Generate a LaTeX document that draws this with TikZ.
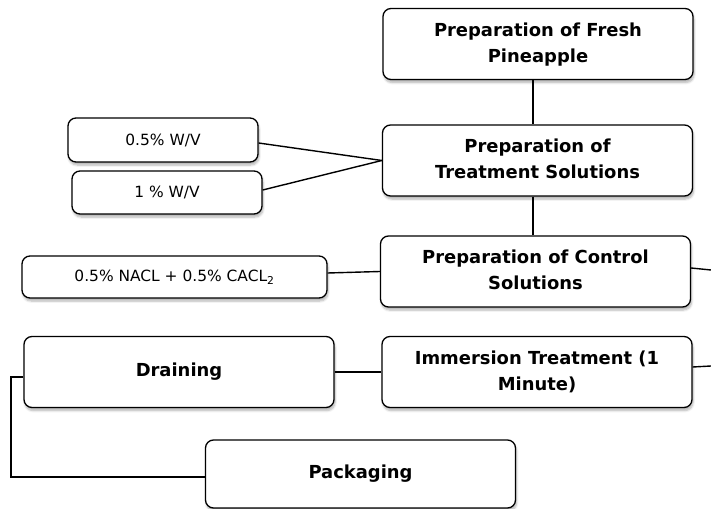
\documentclass[tikz,border=0pt]{standalone}
\usepackage{fontspec}
\setmainfont{DejaVu Sans}
\usetikzlibrary{shadows.blur,calc}
\tikzset{
  box/.style={draw=black, line width=1.3bp, rounded corners=8bp, fill=white,
    align=center, inner sep=0pt,
    blur shadow={shadow blur steps=6, shadow xshift=1bp, shadow yshift=-3bp, shadow opacity=30}},
  bigbox/.style={box, minimum width=310bp, minimum height=71bp,
    font=\bfseries\fontsize{18}{26}\selectfont},
  smallbox/.style={box, font=\fontsize{15.5}{18}\selectfont},
  conn/.style={draw=black, line width=1.4bp}
}
\begin{document}
\begin{tikzpicture}[x=1bp,y=-1bp]
\useasboundingbox (0,0) rectangle (711,509);
\node[bigbox] (fresh) at (538,44) {\raisebox{6bp}{\begin{tabular}{@{}c@{}}Preparation of Fresh\\Pineapple\end{tabular}}};
\node[bigbox] (treat) at (537.5,160.5) {\raisebox{4bp}{\begin{tabular}{@{}c@{}}Preparation of\\Treatment Solutions\end{tabular}}};
\node[bigbox] (ctrl) at (535.5,271.5) {\raisebox{6bp}{\begin{tabular}{@{}c@{}}Preparation of Control\\Solutions\end{tabular}}};
\node[bigbox] (imm) at (537,372) {\raisebox{6bp}{\begin{tabular}{@{}c@{}}Immersion Treatment (1\\Minute)\end{tabular}}};
\node[bigbox] (drain) at (179,372) {\raisebox{5bp}{Draining}};
\node[bigbox, minimum height=68bp] (pack) at (360.5,474) {Packaging};
\node[smallbox, minimum width=190bp, minimum height=44bp] (w05) at (163,140) {0.5\% W/V};
\node[smallbox, minimum width=190bp, minimum height=43bp] (w1) at (167,192.5) {1 \% W/V};
\node[smallbox, minimum width=305bp, minimum height=42bp] (nacl) at (174.5,277) {0.5\% NACL + 0.5\% CACL\textsubscript{2}};
\coordinate (ctrlout) at (711,270);
\coordinate (immout) at (711,366);
\coordinate (bend) at (11,0);
\coordinate (vx) at (533,0);
\draw[conn] (fresh.south -| vx) -- (treat.north -| vx);
\draw[conn] (treat.south -| vx) -- (ctrl.north -| vx);
\draw[conn] ([yshift=-3bp]w05.east) -- (treat.west);
\draw[conn] ([yshift=2.5bp]w1.east) -- (treat.west);
\draw[conn] ([yshift=4bp]nacl.east) -- (ctrl.west);
\draw[conn] ([yshift=3.5bp]ctrl.east) -- (ctrlout);
\draw[conn] ([yshift=5bp]imm.east) -- (immout);
\draw[conn] (drain.east) -- (imm.west);
\draw[conn] ([yshift=-5bp]drain.west) -- ([yshift=-5bp]drain.west -| bend) -- ([yshift=-3bp]pack.west -| bend) -- ([yshift=-3bp]pack.west);
\end{tikzpicture}
\end{document}
